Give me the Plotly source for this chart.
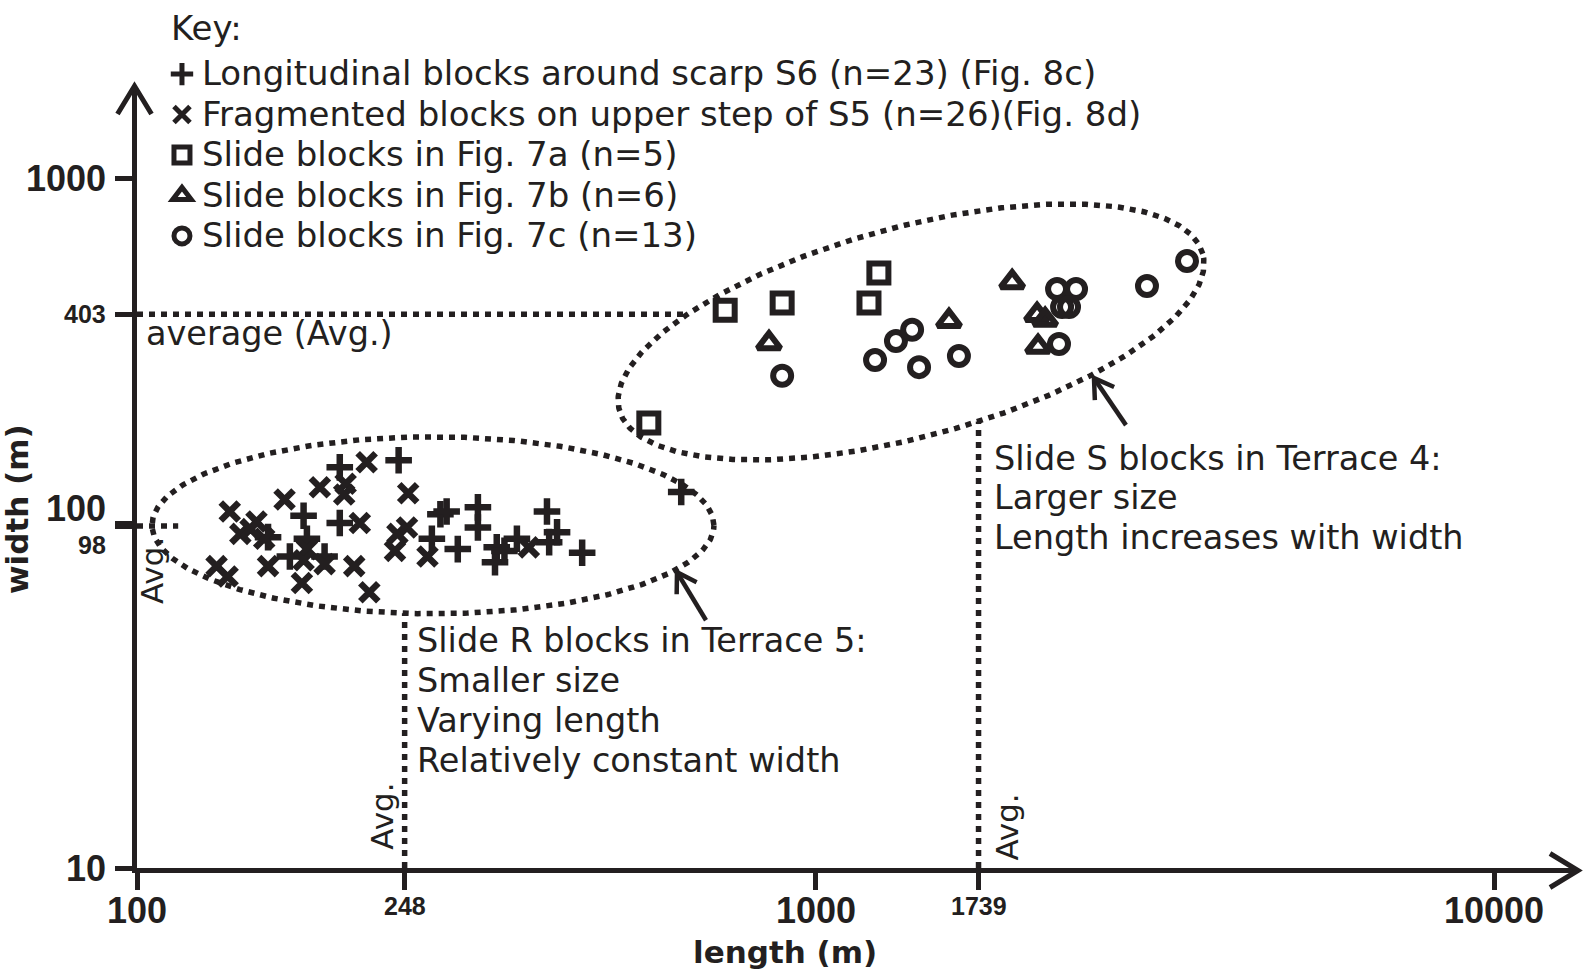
import numpy as np
import plotly.graph_objects as go

# ---------------- data: block length / width (m) ----------------
# Slide R blocks, Terrace 5
long_len = [199, 243, 176, 199, 168, 156, 178, 189, 280, 286, 318, 318, 272,
            297, 339, 337, 348, 363, 402, 405, 416, 453, 634]
long_wid = [145, 152, 105, 100, 80, 91, 90, 80, 106, 108, 111, 97, 90,
            84, 85, 77, 83, 90, 108, 88, 94, 82, 123]
frag_len = [218, 186, 203, 202, 251, 165, 213, 137, 150, 142, 154, 156, 178,
            189, 209, 175, 220, 131, 136, 250, 242, 240, 268, 378, 176, 147]
frag_wid = [150, 127, 130, 121, 122, 117, 100, 108, 101, 93, 90, 75, 84,
            76, 75, 67, 63, 75, 70, 97, 93, 83, 80, 85, 78, 96]
# Slide S blocks, Terrace 4
fig7a_len = [736, 893, 1240, 1199, 568]
fig7a_wid = [414, 434, 530, 434, 195]
fig7b_len = [854, 1573, 1949, 2121, 2180, 2128]
fig7b_wid = [332, 385, 499, 401, 388, 324]
fig7c_len = [893, 1224, 1314, 1388, 1421, 1627, 2270, 2421, 2309, 2364, 2285, 3080, 3528]
fig7c_wid = [267, 297, 337, 363, 283, 305, 477, 477, 423, 423, 330, 486, 575]

series_names = [
    "Longitudinal blocks around scarp S6 (n=23) (Fig. 8c)",
    "Fragmented blocks on upper step of S5 (n=26)(Fig. 8d)",
    "Slide blocks in Fig. 7a (n=5)",
    "Slide blocks in Fig. 7b (n=6)",
    "Slide blocks in Fig. 7c (n=13)",
]

# averages
avg_len_r, avg_len_s = 248, 1739
avg_wid_r, avg_wid_s = 98, 403

x_ticks = [100, 248, 1000, 1739, 10000]
y_ticks = [10, 98, 100, 403, 1000]

r_note = ["Slide R blocks in Terrace 5:", "Smaller size", "Varying length",
          "Relatively constant width"]
s_note = ["Slide S blocks in Terrace 4:", "Larger size", "Length increases with width"]

# ---------------- geometry / style ----------------
INK = "#231f20"
W, H = 1588, 978
M_L, M_R, M_T, M_B = 137, 10, 86, 110
PX_DEC_X = 678.5      # pixels per decade, length axis
PX_DEC_Y = 345.0      # pixels per decade, width axis
X_RANGE = [2.0, 2.0 + (W - M_L - M_R) / PX_DEC_X]
Y_RANGE = [1.0, 1.0 + (H - M_T - M_B) / PX_DEC_Y]

BODY = "DejaVu Sans"
NUM = "Liberation Sans"
DOTS = "6px,6px"


def offset(x, y, dx_px, dy_px):
    """Move a data point by a screen offset (pixels, y up)."""
    return (10 ** (np.log10(x) + np.asarray(dx_px) / PX_DEC_X),
            10 ** (np.log10(y) + np.asarray(dy_px) / PX_DEC_Y))


def ellipse(cx, cy, a, b, tilt, n=600):
    t = np.linspace(0, 2 * np.pi, n)
    th = np.radians(tilt)
    dx = a * np.cos(t) * np.cos(th) - b * np.sin(t) * np.sin(th)
    dy = a * np.cos(t) * np.sin(th) + b * np.sin(t) * np.cos(th)
    return offset(cx, cy, dx, dy)


def crossings(u, v, target):
    lu, lv, t = np.log10(u), np.log10(v), np.log10(target)
    hits = []
    for i in range(len(lu) - 1):
        p, q = lu[i] - t, lu[i + 1] - t
        if p != q and p * q <= 0:
            f = p / (p - q)
            hits.append(lv[i] + f * (lv[i + 1] - lv[i]))
    return 10 ** np.array(hits)


def arrow(tip_x, tip_y, tail_dx, tail_dy, head=22, spread=32):
    ln = np.hypot(tail_dx, tail_dy)
    ux, uy = tail_dx / ln, tail_dy / ln
    tail = offset(tip_x, tip_y, tail_dx, tail_dy)
    arms = []
    for s in (1, -1):
        a = np.radians(spread * s)
        rx = ux * np.cos(a) - uy * np.sin(a)
        ry = ux * np.sin(a) + uy * np.cos(a)
        arms.append(offset(tip_x, tip_y, head * rx, head * ry))
    xs = [float(tail[0]), tip_x, None, float(arms[0][0]), tip_x, float(arms[1][0])]
    ys = [float(tail[1]), tip_y, None, float(arms[0][1]), tip_y, float(arms[1][1])]
    return xs, ys


fig = go.Figure()

# ---- group outlines (dotted ellipses) ----
r_ex, r_ey = ellipse(273, 98.5, 281, 88.5, 0)
s_ex, s_ey = ellipse(1383, 358, 302, 105, 15)
for ex, ey in ((r_ex, r_ey), (s_ex, s_ey)):
    fig.add_trace(go.Scatter(x=ex, y=ey, mode="lines", showlegend=False,
                             hoverinfo="skip",
                             line=dict(color=INK, width=5.5, dash=DOTS)))

# ---- average guide lines ----
r_top = crossings(r_ex, r_ey, avg_len_r).min()
s_top = crossings(s_ex, s_ey, avg_len_s).min()
s_left = crossings(s_ey, s_ex, avg_wid_s).min()
guides = [
    ([avg_len_r, avg_len_r], [10, r_top]),
    ([avg_len_s, avg_len_s], [10, s_top]),
    ([100, s_left], [avg_wid_s, avg_wid_s]),
    ([100, 115], [avg_wid_r, avg_wid_r]),
]
for gx, gy in guides:
    fig.add_trace(go.Scatter(x=gx, y=gy, mode="lines", showlegend=False,
                             hoverinfo="skip",
                             line=dict(color=INK, width=5.5, dash=DOTS)))

# ---- pointer arrows toward each group ----
for tip, tail in (((625, 72), (29, -48)), ((2573, 263), (32, -47))):
    ax_, ay_ = arrow(tip[0], tip[1], tail[0], tail[1])
    fig.add_trace(go.Scatter(x=ax_, y=ay_, mode="lines", showlegend=False,
                             hoverinfo="skip",
                             line=dict(color=INK, width=4.5)))

# ---- block measurements ----
marker_specs = [
    (long_len, long_wid, "cross-thin", 19, 6.5),
    (frag_len, frag_wid, "x-thin", 18, 6.5),
    (fig7a_len, fig7a_wid, "square-open", 19, 6),
    (fig7b_len, fig7b_wid, "triangle-up-open", 20, 6),
    (fig7c_len, fig7c_wid, "circle-open", 18, 6),
]
for (xs, ys, sym, size, lw), name in zip(marker_specs, series_names):
    fig.add_trace(go.Scatter(
        x=xs, y=ys, mode="markers",
        name=f"<span style='font-size:34px'>{name}</span>",
        marker=dict(symbol=sym, size=size, color=INK,
                    line=dict(width=lw, color=INK)),
        hoverinfo="skip"))

# ---- annotations ----
ann = []
for v in x_ticks:
    major = float(np.log10(v)).is_integer()
    ann.append(dict(x=np.log10(v), y=0, xref="x", yref="paper",
                    yshift=-42 if major else -38, text=str(v), showarrow=False,
                    xanchor="center", yanchor="middle",
                    font=dict(family=NUM, size=36 if major else 25,
                              weight="bold", color=INK)))
# 100 and 98 sit almost on top of each other: nudge their labels apart
y_label_shift = {100: 15, 98: -19}
for v in y_ticks:
    major = float(np.log10(v)).is_integer()
    ann.append(dict(x=0, y=np.log10(v), xref="paper", yref="y",
                    xshift=-29, yshift=y_label_shift.get(v, 0), text=str(v),
                    showarrow=False, xanchor="right", yanchor="middle",
                    font=dict(family=NUM, size=36 if major else 25,
                              weight="bold", color=INK)))

# axis titles
ann.append(dict(x=0.4497, y=0, xref="paper", yref="paper", yshift=-84,
                text="length (m)", showarrow=False, xanchor="center",
                yanchor="middle",
                font=dict(family=BODY, size=31, weight="bold", color=INK)))
ann.append(dict(x=0, y=0.459, xref="paper", yref="paper", xshift=-120,
                text="width (m)", textangle=-90, showarrow=False,
                xanchor="center", yanchor="middle",
                font=dict(family=BODY, size=31, weight="bold", color=INK)))

# key heading
ann.append(dict(x=0, y=1, xref="paper", yref="paper", xshift=32, yshift=58,
                text="Key:", showarrow=False, xanchor="left", yanchor="middle",
                font=dict(family=BODY, size=34, color=INK)))

body_font = dict(family=BODY, size=33.5, color=INK)
# average labels
ann.append(dict(x=2, y=np.log10(avg_wid_s), xref="x", yref="y", xshift=7,
                yshift=-19, text="average (Avg.)", showarrow=False,
                xanchor="left", yanchor="middle", font=body_font))
for x, y, xs_, ys_, xr, yr in (
        (2, np.log10(avg_wid_r), 15, -45, "x", "y"),
        (np.log10(avg_len_r), 0, -23, 52, "x", "paper"),
        (np.log10(avg_len_s), 0, 28, 41, "x", "paper")):
    ann.append(dict(x=x, y=y, xref=xr, yref=yr, xshift=xs_, yshift=ys_,
                    text="Avg.", textangle=-90, showarrow=False,
                    xanchor="center", yanchor="middle",
                    font=dict(family=BODY, size=31, color=INK)))

# group descriptions
for i, line in enumerate(r_note):
    ann.append(dict(x=np.log10(avg_len_r), y=0, xref="x", yref="paper",
                    xshift=10, yshift=228 - 40 * i, text=line, showarrow=False,
                    xanchor="left", yanchor="middle", font=body_font))
for i, line in enumerate(s_note):
    ann.append(dict(x=np.log10(avg_len_s), y=0, xref="x", yref="paper",
                    xshift=13, yshift=410 - 39.5 * i, text=line, showarrow=False,
                    xanchor="left", yanchor="middle", font=body_font))

# ---- axis arrowheads ----
shapes = [
    dict(type="path", xref="paper", yref="paper", xsizemode="pixel",
         ysizemode="pixel", xanchor=1, yanchor=0,
         path="M -28,14.5 L 0,-2.5 L -28,-19.5",
         line=dict(color=INK, width=5)),
    dict(type="path", xref="paper", yref="paper", xsizemode="pixel",
         ysizemode="pixel", xanchor=0, yanchor=1,
         path="M -19.5,-28 L -2.5,0 L 14.5,-28",
         line=dict(color=INK, width=5)),
]

axis_common = dict(type="log", showticklabels=False, ticks="outside",
                   ticklen=17, tickwidth=5, tickcolor=INK, showline=True,
                   linewidth=5, linecolor=INK, showgrid=False, zeroline=False)

fig.update_layout(
    width=W, height=H,
    margin=dict(l=M_L, r=M_R, t=M_T, b=M_B, autoexpand=False),
    paper_bgcolor="white", plot_bgcolor="white", hovermode=False,
    xaxis=dict(range=X_RANGE, tickvals=x_ticks, **axis_common),
    yaxis=dict(range=Y_RANGE, tickvals=y_ticks, **axis_common),
    annotations=ann, shapes=shapes,
    showlegend=True,
    legend=dict(xref="container", yref="container", x=0.102, y=0.95,
                xanchor="left", yanchor="top", bgcolor="rgba(0,0,0,0)",
                font=dict(family=BODY, size=28.8, color=INK),
                itemsizing="trace", tracegroupgap=0, traceorder="normal"),
)

fig.write_html("out.html", config={"displayModeBar": False})
